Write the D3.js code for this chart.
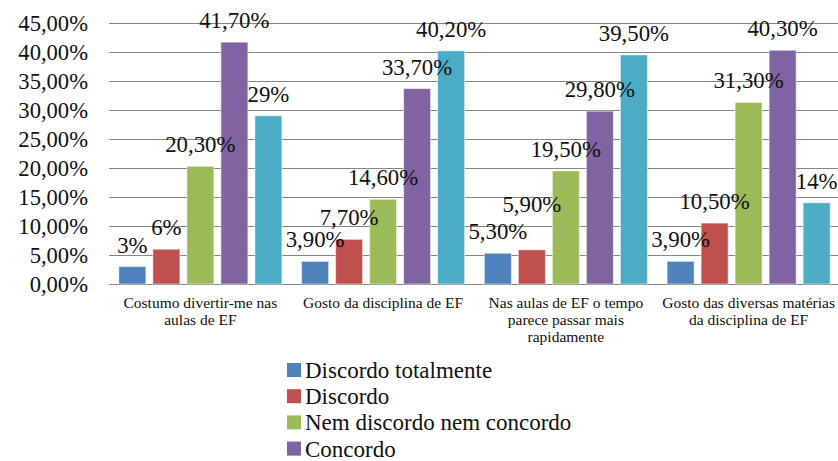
<!DOCTYPE html>
<html><head><meta charset="utf-8">
<script src="https://cdn.jsdelivr.net/npm/d3@7"></script>
<style>body{margin:0;background:#fff}svg{display:block}</style>
</head><body>
<svg id="c" width="838" height="461"></svg>
<script>
const categories = ["Costumo divertir-me nas aulas de EF","Gosto da disciplina de EF","Nas aulas de EF o tempo parece passar mais rapidamente","Gosto das diversas matérias da disciplina de EF"];
const seriesNames = ["Discordo totalmente","Discordo","Nem discordo nem concordo","Concordo","Concordo totalmente"];
const colors = ["#4F81BD","#C0504D","#9BBB59","#8064A2","#4BACC6"];
const valuesDiscordoTotalmente = [3, 3.9, 5.3, 3.9];
const valuesDiscordo = [6, 7.7, 5.9, 10.5];
const valuesNem = [20.3, 14.6, 19.5, 31.3];
const valuesConcordo = [41.7, 33.7, 29.8, 40.3];
const valuesConcordoTotalmente = [29, 40.2, 39.5, 14];
const labelsDiscordoTotalmente = ["3%","3,90%","5,30%","3,90%"];
const labelsDiscordo = ["6%","7,70%","5,90%","10,50%"];
const labelsNem = ["20,30%","14,60%","19,50%","31,30%"];
const labelsConcordo = ["41,70%","33,70%","29,80%","40,30%"];
const labelsConcordoTotalmente = ["29%","40,20%","39,50%","14%"];
const yTicks = [0,5,10,15,20,25,30,35,40,45];
const yTickLabels = ["0,00%","5,00%","10,00%","15,00%","20,00%","25,00%","30,00%","35,00%","40,00%","45,00%"];
const legendShown = 4;

const values = [valuesDiscordoTotalmente, valuesDiscordo, valuesNem, valuesConcordo, valuesConcordoTotalmente];
const labels = [labelsDiscordoTotalmente, labelsDiscordo, labelsNem, labelsConcordo, labelsConcordoTotalmente];

(function(){
const svg = d3.select("#c");
const font = "Liberation Serif";
const pLeft = 109, pRight = 840, pTop = 23, pBottom = 284;

const y = d3.scaleLinear().domain([0,45]).range([pBottom, pTop]);
const x0 = d3.scaleBand().domain(d3.range(categories.length)).range([pLeft, pRight]).paddingInner(0).paddingOuter(0);
const x1 = d3.scaleBand().domain(d3.range(seriesNames.length)).range([0, x0.bandwidth()]).paddingInner(0.206).paddingOuter(0.29);

svg.append("g").selectAll("line").data(yTicks).join("line")
  .attr("x1", pLeft).attr("x2", 838)
  .attr("y1", d => Math.round(y(d)) + 0.5).attr("y2", d => Math.round(y(d)) + 0.5)
  .attr("stroke", "#868686").attr("stroke-width", 1);

svg.append("g").selectAll("text").data(yTicks).join("text")
  .attr("x", 88).attr("y", d => y(d)).attr("dy", "0.35em")
  .attr("text-anchor", "end").style("font-family", font).attr("font-size", 22.6).attr("fill", "#111")
  .text((d,i) => yTickLabels[i]);

const bars = [];
values.forEach((arr, s) => arr.forEach((v, c) => bars.push({s, c, v, label: labels[s][c]})));
svg.append("g").selectAll("rect").data(bars).join("rect")
  .attr("x", d => x0(d.c) + x1(d.s)).attr("width", x1.bandwidth())
  .attr("y", d => y(d.v)).attr("height", d => y(0) - y(d.v))
  .attr("fill", d => colors[d.s]).attr("stroke", "#ffffff").attr("stroke-opacity", 0.5).attr("stroke-width", 1);

const lg = svg.append("g");
const placed = [];
categories.forEach((cat, c) => {
  seriesNames.forEach((sn, s) => {
    const d = bars.find(b => b.c === c && b.s === s);
    const cx = x0(c) + x1(s) + x1.bandwidth()/2;
    let base = y(d.v) - 14;
    const t = lg.append("text").attr("x", cx).attr("y", base).attr("text-anchor", "middle")
      .style("font-family", font).attr("font-size", 22.8).attr("fill", "#111").text(d.label);
    const w = t.node().getComputedTextLength();
    let box = {x0: cx - w/2, x1: cx + w/2, y0: base - 15, y1: base};
    let moved = true;
    while (moved) {
      moved = false;
      for (const p of placed) {
        if (box.x0 < p.x1 && box.x1 > p.x0 && box.y0 < p.y1 && box.y1 > p.y0) {
          base = p.y1 - 27;
          box = {x0: box.x0, x1: box.x1, y0: base - 15, y1: base};
          moved = true;
        }
      }
    }
    t.attr("y", base);
    placed.push(box);
  });
});

const maxW = 176, lineH = 17;
categories.forEach((cat, c) => {
  const cx = x0(c) + x0.bandwidth()/2;
  const t = svg.append("text").attr("text-anchor", "middle").style("font-family", font)
    .attr("font-size", 15.5).attr("fill", "#111");
  const words = cat.split(" ");
  let lines = [], cur = [];
  const meas = svg.append("text").style("font-family", font).attr("font-size", 15.5);
  words.forEach(wd => {
    const test = cur.concat([wd]).join(" ");
    meas.text(test);
    if (meas.node().getComputedTextLength() > maxW && cur.length) { lines.push(cur.join(" ")); cur = [wd]; }
    else cur.push(wd);
  });
  lines.push(cur.join(" "));
  meas.remove();
  lines.forEach((ln, i) => t.append("tspan").attr("x", cx).attr("y", 308 + i*lineH).text(ln));
});

const leg = svg.append("g");
seriesNames.slice(0, legendShown).forEach((sn, i) => {
  const by = 378 + i*26.2;
  leg.append("rect").attr("x", 287).attr("y", by - 15).attr("width", 14).attr("height", 14).attr("fill", colors[i]);
  leg.append("text").attr("x", 305).attr("y", by).style("font-family", font).attr("font-size", 23).attr("fill", "#111").text(sn);
});
})();
</script>
</body></html>
